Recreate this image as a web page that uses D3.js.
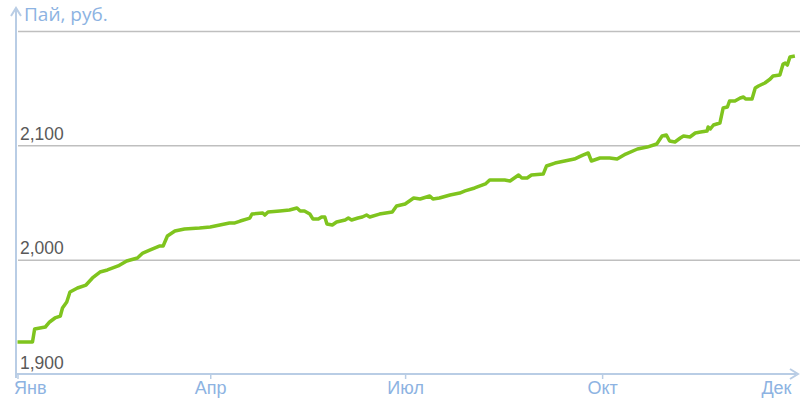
<!DOCTYPE html>
<html>
<head>
<meta charset="utf-8">
<script src="https://cdn.jsdelivr.net/npm/d3@7"></script>
<style>
  body { margin: 0; background: #fff; }
  svg { display: block; font-family: "Open Sans", sans-serif; }
</style>
</head>
<body>
<svg id="chart" width="800" height="400"></svg>
<script>
// day of year (from Jan 1) and unit price
const days = [0, 7, 8, 10.5, 13, 15, 17.5, 20, 21, 23, 24.5, 28, 32, 35, 38.5, 42, 47, 51, 56, 58.5,
	62, 66.5, 68, 70, 73.5, 78, 85, 90, 94.5, 99, 101.5, 104, 108.5, 109.5, 114.5, 115.5, 117, 122.5, 127, 130.5,
	132, 134, 136.5, 138, 140.5, 142, 143.5, 144.5, 147, 149, 153, 154.5, 156, 159, 161, 163, 164.5, 169, 175, 177,
	181, 183, 185, 188, 192.5, 194, 197, 202, 206.5, 209, 213.5, 218.5, 220.5, 227.5, 230, 232, 234, 235.5, 238, 240,
	245.5, 247, 251, 255.5, 260, 264, 266.5, 268, 272, 276.5, 280, 284, 289.5, 294, 298.5, 301, 303, 304.5, 307, 309.5,
	311, 314, 316.5, 319, 322, 322.5, 323.5, 325, 328, 329.5, 331.5, 332.5, 335, 337.5, 339, 340, 343, 344.5, 346, 349,
	351.5, 352.8, 356, 357.5, 358.5, 359.5, 360.7, 363];
const values = [1928.0, 1928.0, 1939.4, 1940.2, 1941.1, 1945.5, 1949.0, 1950.7, 1957.7, 1963.0, 1971.7, 1975.2, 1977.8, 1984.0, 1989.2, 1991.0, 1994.5, 1998.8, 2001.5, 2005.8,
	2008.5, 2012.0, 2012.0, 2020.7, 2025.1, 2026.8, 2027.7, 2028.6, 2030.3, 2032.1, 2032.1, 2033.8, 2036.4, 2039.9, 2040.8, 2039.0, 2041.7, 2042.6, 2043.4, 2045.2,
	2042.6, 2042.6, 2039.9, 2035.5, 2035.5, 2037.3, 2037.3, 2031.2, 2030.3, 2032.9, 2034.7, 2036.4, 2034.7, 2036.4, 2037.3, 2039.1, 2037.3, 2039.9, 2041.7, 2046.9,
	2048.7, 2051.3, 2053.9, 2053.1, 2055.7, 2053.1, 2053.9, 2056.6, 2058.3, 2060.1, 2062.7, 2066.2, 2069.7, 2069.7, 2068.8, 2071.4, 2074.0, 2071.4, 2071.4, 2074.0,
	2074.9, 2081.9, 2084.5, 2086.3, 2088.0, 2091.5, 2093.3, 2086.3, 2088.9, 2088.9, 2088.0, 2092.4, 2096.8, 2098.5, 2101.2, 2108.2, 2109.0, 2103.8, 2102.9, 2106.4,
	2108.2, 2107.3, 2110.8, 2111.7, 2112.5, 2116.0, 2114.3, 2117.8, 2119.5, 2132.6, 2133.5, 2138.8, 2138.8, 2141.4, 2142.3, 2140.5, 2140.5, 2150.1, 2151.9, 2154.5,
	2158.0, 2160.6, 2161.5, 2171.1, 2172.0, 2170.2, 2177.2, 2178.1];

const yTicks = [1900, 2000, 2100, 2200];
const monthTicks = ["2023-01-01", "2023-04-01", "2023-07-01", "2023-10-01", "2023-12-31"];
const monthLabels = ["Янв", "Апр", "Июл", "Окт", "Дек"];
const yTitle = "Пай, руб.";

const svg = d3.select("#chart");
const axisColor = "#b9cde5";
const labelColor = "#8db3e2";

const start = new Date(2023, 0, 1);
const data = days.map((d, i) => ({
	date: new Date(start.getTime() + d * 864e5),
	value: values[i]
}));

const x = d3.scaleTime()
						.domain([start, new Date(2023, 11, 31)])
						.range([17.5, 797]);
const y = d3.scaleLinear().domain([1900, 2200]).range([374, 31]);

// grid + y labels
const yAxis = svg.append("g")
								.attr("transform", "translate(18, 0)")
								.call(d3.axisRight(y).tickValues(yTicks).tickSize(782).tickFormat(d => d === 2200 ? "" : d3.format(",")(d)));
yAxis.select(".domain").remove();
yAxis.selectAll(".tick line")
			.attr("stroke", d => d === 1900 ? "none" : "#bfbfbf")
			.attr("stroke-width", 1.5);
yAxis.selectAll(".tick text")
			.attr("x", 2)
			.attr("dy", -6)
			.attr("fill", "#595959")
			.style("font-size", "17.5px");

// line
svg.append("path")
		.datum(data)
		.attr("fill", "none")
		.attr("stroke", "#7fc41e")
		.attr("stroke-width", 3.5)
		.attr("stroke-linejoin", "round")
		.attr("d", d3.line().x(d => x(d.date)).y(d => y(d.value)));

// x axis
const xAxis = svg.append("g")
								.attr("transform", "translate(0, 374)")
								.call(d3.axisBottom(x)
									.tickValues(monthTicks.map(d => new Date(d + "T00:00")))
									.tickSize(5)
									.tickFormat((d, i) => monthLabels[i]));
xAxis.select(".domain").remove();
xAxis.selectAll(".tick line")
			.attr("stroke", (d, i) => i === monthTicks.length - 1 ? "none" : axisColor)
			.attr("stroke-width", 1.5);
xAxis.selectAll(".tick text")
			.attr("y", 7)
			.attr("fill", labelColor)
			.style("font-size", "18px")
			.attr("text-anchor", (d, i) => i === 0 ? "start" : i === monthTicks.length - 1 ? "end" : "middle")
			.attr("dx", (d, i) => i === 0 ? -4 : i === monthTicks.length - 1 ? -6 : 0);

// axis lines with arrows
svg.append("line")
		.attr("x1", 16).attr("x2", 16).attr("y1", 378).attr("y2", 10)
		.attr("stroke", axisColor).attr("stroke-width", 2);
svg.append("path")
		.attr("d", "M11,16 L16,8 L21,16")
		.attr("fill", "none").attr("stroke", axisColor).attr("stroke-width", 2);
svg.append("line")
		.attr("x1", 15).attr("x2", 796).attr("y1", 374).attr("y2", 374)
		.attr("stroke", axisColor).attr("stroke-width", 2);
svg.append("path")
		.attr("d", "M790,369 L798,374 L790,379")
		.attr("fill", "none").attr("stroke", axisColor).attr("stroke-width", 2);

svg.append("text")
		.attr("x", 24)
		.attr("y", 21)
		.attr("fill", labelColor)
		.style("font-size", "19px")
		.text(yTitle);
</script>
</body>
</html>
